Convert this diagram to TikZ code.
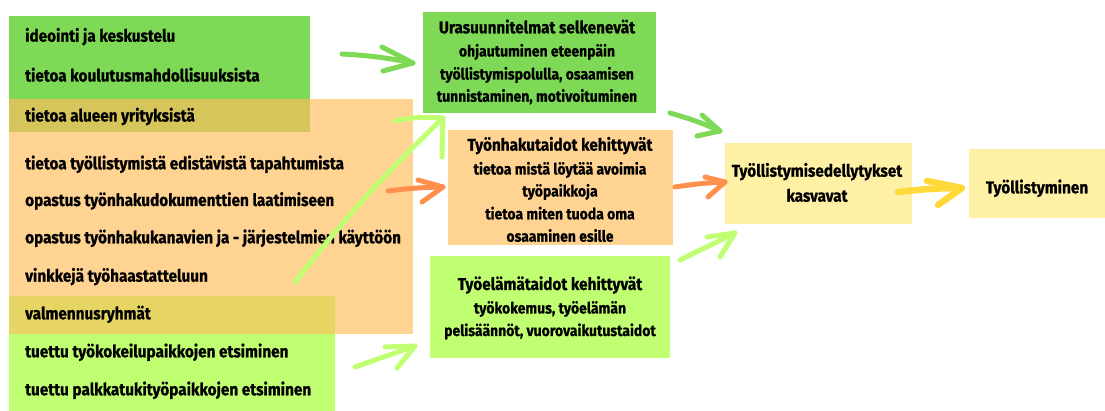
\documentclass[tikz,border=0pt]{standalone}
\usepackage{fontspec}
\setmainfont{Fira Sans}[FakeStretch=0.9, BoldFeatures={FakeBold=0.8}]
\definecolor{cgreen}{HTML}{7ED957}
\definecolor{corange}{HTML}{FFD392}
\definecolor{clight}{HTML}{C1FF72}
\definecolor{colive}{HTML}{D5C55B}
\definecolor{cmix}{HTML}{E6D463}
\definecolor{cyellowbox}{HTML}{FEF1A6}
\definecolor{carrow}{HTML}{FF914D}
\definecolor{cyarrow}{HTML}{FFD93A}
\tikzset{
  panel/.style={draw=none, inner sep=0pt, outer sep=0pt, anchor=north west, rectangle},
  listtext/.style={anchor=base west, inner sep=0pt, font=\bfseries\fontsize{17}{20}\selectfont},
  titletext/.style={anchor=base, inner sep=0pt, font=\bfseries\fontsize{17}{20}\selectfont},
  subtext/.style={anchor=base, inner sep=0pt, font=\bfseries\fontsize{15.5}{20}\selectfont},
  brush/.style={line width=5pt, line cap=round, line join=round},
}
\begin{document}
\begin{tikzpicture}[x=1pt,y=-1pt]
\useasboundingbox (0,0) rectangle (1105,411);
\fill[white] (0,0) rectangle (1105,411);
% left panels
\node[panel, fill=corange, minimum width=404pt, minimum height=235pt] (orange) at (9,99) {};
\node[panel, fill=cgreen, minimum width=301pt, minimum height=116pt] (green) at (9,16) {};
\node[panel, fill=clight, minimum width=326pt, minimum height=115pt] (light) at (9,296) {};
\node[panel, fill=colive, minimum width=301pt, minimum height=33pt] (ov1) at (9,99) {};
\node[panel, fill=cmix, minimum width=326pt, minimum height=38pt] (ov2) at (9,296) {};
% left texts
\node[listtext] (l1) at (25,41.7) {ideointi ja keskustelu};
\node[listtext] (l2) at (25,81.5) {tietoa koulutusmahdollisuuksista};
\node[listtext] (l3) at (25,121.5) {tietoa alueen yrityksistä};
\node[listtext] (l4) at (25,169.3) {tietoa työllistymistä edistävistä tapahtumista};
\node[listtext] (l5) at (25,206) {opastus työnhakudokumenttien laatimiseen};
\node[listtext] (l6) at (25,243.3) {opastus työnhakukanavien ja - järjestelmien käyttöön};
\node[listtext] (l7) at (25,281.7) {vinkkejä työhaastatteluun};
\node[listtext] (l8) at (25,319.3) {valmennusryhmät};
\node[listtext] (l9) at (25,357.3) {tuettu työkokeilupaikkojen etsiminen};
\node[listtext] (l10) at (25,395.3) {tuettu palkkatukityöpaikkojen etsiminen};
% right boxes
\node[panel, fill=cgreen, minimum width=233pt, minimum height=101pt] (ura) at (423,12) {};
\node[panel, fill=corange, minimum width=225pt, minimum height=115pt] (haku) at (448,130) {};
\node[panel, fill=clight, minimum width=240pt, minimum height=102pt] (elama) at (430,256) {};
\node[panel, fill=cyellowbox, minimum width=187pt, minimum height=81pt] (edel) at (725,143) {};
\node[panel, fill=cyellowbox, minimum width=136pt, minimum height=69pt] (tyoll) at (969,149) {};
% box texts
\node[titletext] (u1) at (537,33.3) {Urasuunnitelmat selkenevät};
\node[subtext] (u2) at (537,56.5) {ohjautuminen eteenpäin};
\node[subtext] (u3) at (537,79.5) {työllistymispolulla, osaamisen};
\node[subtext] (u4) at (537,101.7) {tunnistaminen, motivoituminen};
\node[titletext] (h1) at (560,150.7) {Työnhakutaidot kehittyvät};
\node[subtext] (h2) at (560,174.5) {tietoa mistä löytää avoimia};
\node[subtext] (h3) at (560,196.5) {työpaikkoja};
\node[subtext] (h4) at (560,219.3) {tietoa miten tuoda oma};
\node[subtext] (h5) at (560,241.7) {osaaminen esille};
\node[titletext] (e1) at (550,290) {Työelämätaidot kehittyvät};
\node[subtext] (e2) at (550,313.5) {työkokemus, työelämän};
\node[subtext] (e3) at (550,336) {pelisäännöt, vuorovaikutustaidot};
\node[titletext] (d1) at (817,176.7) {Työllistymisedellytykset};
\node[titletext] (d2) at (817,201.7) {kasvavat};
\node[titletext] (t1) at (1037,193.3) {Työllistyminen};
% arrow coordinates
\coordinate (s1) at (342,54); \coordinate (t1a) at (413,63);
\coordinate (b1a) at (382,47); \coordinate (b1b) at (383,71);
\coordinate (s2) at (295,282); \coordinate (t2) at (443,118);
\coordinate (b2a) at (395,121); \coordinate (b2b) at (442,157);
\coordinate (s3) at (388,191); \coordinate (t3) at (443,187);
\coordinate (b3a) at (418,180); \coordinate (b3b) at (422,202);
\coordinate (s4) at (355,367); \coordinate (t4) at (415,346);
\coordinate (b4a) at (385,347); \coordinate (b4b) at (397,368);
\coordinate (s5) at (670,113); \coordinate (t5) at (720,131);
\coordinate (b5a) at (702,115); \coordinate (b5b) at (697,136);
\coordinate (s6) at (675,187); \coordinate (t6) at (725,182);
\coordinate (b6a) at (705,177); \coordinate (b6b) at (708,197);
\coordinate (s7) at (680,260); \coordinate (t7) at (735,233);
\coordinate (b7a) at (707,237); \coordinate (b7b) at (720,257);
\coordinate (s8) at (898,192); \coordinate (t8) at (962,188);
\coordinate (b8a) at (927,181); \coordinate (b8b) at (938,205);
% arrows
\draw[brush, cgreen] (s1) to[bend left=4] (t1a);
\draw[brush, cgreen] (b1a) -- (t1a) -- (b1b);
\draw[brush, clight] (s2) to[bend left=4] (t2);
\draw[brush, clight] (b2a) to[bend left=8] (t2) -- (b2b);
\draw[brush, carrow] (s3) to[bend left=3] (t3);
\draw[brush, carrow] (b3a) -- (t3) -- (b3b);
\draw[brush, clight] (s4) -- (t4);
\draw[brush, clight] (b4a) -- (t4) -- (b4b);
\draw[brush, cgreen] (s5) to[bend left=4] (t5);
\draw[brush, cgreen] (b5a) -- (t5) -- (b5b);
\draw[brush, carrow] (s6) to[bend left=3] (t6);
\draw[brush, carrow] (b6a) -- (t6) -- (b6b);
\draw[brush, clight] (s7) -- (t7);
\draw[brush, clight] (b7a) -- (t7) -- (b7b);
\draw[brush, cyarrow, line width=6.5pt] (s8) to[bend left=3] (t8);
\draw[brush, cyarrow, line width=6.5pt] (b8a) -- (t8) -- (b8b);
\end{tikzpicture}
\end{document}
